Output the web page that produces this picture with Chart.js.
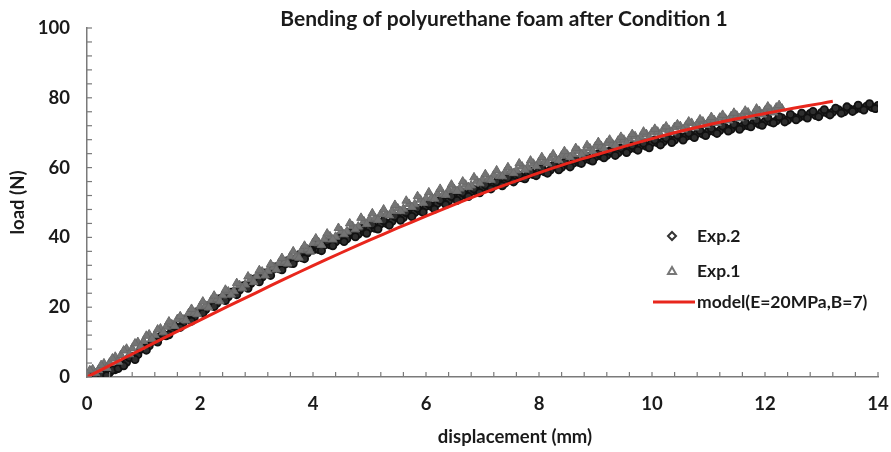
<!DOCTYPE html>
<html>
<head>
<meta charset="utf-8">
<script src="https://cdn.jsdelivr.net/npm/chart.js@4/dist/chart.umd.min.js"></script>
<style>
  html, body { margin: 0; padding: 0; background: #fff; }
  #wrap { position: relative; width: 891px; height: 452px; }
</style>
</head>
<body>
<div id="wrap"><canvas id="c" width="891" height="452"></canvas></div>
<script>
// ---- data ----
const exp2X = [0.0,0.1,0.2,0.3,0.4,0.5,0.6,0.7,0.8,0.9,1.0,1.1,1.2,1.3,1.4,1.5,1.6,1.7,1.8,1.9,
  2.0,2.1,2.2,2.3,2.4,2.5,2.6,2.7,2.8,2.9,3.0,3.1,3.2,3.3,3.4,3.5,3.6,3.7,3.8,3.9,
  4.0,4.1,4.2,4.3,4.4,4.5,4.6,4.7,4.8,4.9,5.0,5.1,5.2,5.3,5.4,5.5,5.6,5.7,5.8,5.9,
  6.0,6.1,6.2,6.3,6.4,6.5,6.6,6.7,6.8,6.9,7.0,7.1,7.2,7.3,7.4,7.5,7.6,7.7,7.8,7.9,
  8.0,8.1,8.2,8.3,8.4,8.5,8.6,8.7,8.8,8.9,9.0,9.1,9.2,9.3,9.4,9.5,9.6,9.7,9.8,9.9,
  10.0,10.1,10.2,10.3,10.4,10.5,10.6,10.7,10.8,10.9,11.0,11.1,11.2,11.3,11.4,11.5,11.6,11.7,11.8,11.9,
  12.0,12.1,12.2,12.3,12.4,12.5,12.6,12.7,12.8,12.9,13.0,13.1,13.2,13.3,13.4,13.5,13.6,13.7,13.8,13.9,14.0];
const exp2Y = [0.0,0.4,0.3,0.9,1.3,2.1,3.6,4.2,5.9,6.4,8.3,8.9,10.4,11.6,11.8,13.6,14.1,15.5,16.8,17.2,
  18.9,19.3,20.6,21.1,22.7,23.0,24.4,24.9,26.3,26.8,28.4,28.6,29.8,30.9,31.0,32.3,32.6,34.0,34.2,35.5,
  36.4,36.5,37.8,37.9,38.7,39.4,39.6,40.8,40.9,41.7,42.5,42.6,43.9,44.0,44.6,45.6,45.7,46.9,47.1,47.6,
  48.9,48.8,49.7,50.3,50.4,51.5,51.6,52.2,53.1,53.2,54.2,54.3,54.8,55.7,55.6,56.5,56.8,57.1,57.9,58.0,
  58.9,58.8,59.3,60.2,60.1,60.9,61.2,61.5,62.3,62.2,63.1,63.3,63.5,64.4,64.2,65.0,65.3,65.5,66.3,66.1,
  67.2,67.1,67.4,68.2,67.9,68.8,68.9,69.1,69.8,69.6,70.4,70.3,70.6,71.4,71.0,71.9,71.8,72.0,72.8,72.4,
  73.2,73.1,73.4,74.2,73.6,74.5,74.3,74.7,75.5,74.9,75.8,75.6,75.9,76.6,76.0,76.8,76.7,76.9,77.6,77.2,77.8];
const exp2XB = [0.05,0.15,0.25,0.35,0.45,0.55,0.65,0.75,0.85,0.95,1.05,1.15,1.25,1.35,1.45,1.55,1.65,1.75,1.85,1.95,
  2.05,2.15,2.25,2.35,2.45,2.55,2.65,2.75,2.85,2.95,3.05,3.15,3.25,3.35,3.45,3.55,3.65,3.75,3.85,3.95,
  4.05,4.15,4.25,4.35,4.45,4.55,4.65,4.75,4.85,4.95,5.05,5.15,5.25,5.35,5.45,5.55,5.65,5.75,5.85,5.95,
  6.05,6.15,6.25,6.35,6.45,6.55,6.65,6.75,6.85,6.95,7.05,7.15,7.25,7.35,7.45,7.55,7.65,7.75,7.85,7.95,
  8.05,8.15,8.25,8.35,8.45,8.55,8.65,8.75,8.85,8.95,9.05,9.15,9.25,9.35,9.45,9.55,9.65,9.75,9.85,9.95,
  10.05,10.15,10.25,10.35,10.45,10.55,10.65,10.75,10.85,10.95,11.05,11.15,11.25,11.35,11.45,11.55,11.65,11.75,11.85,11.95,
  12.05,12.15,12.25,12.35,12.45,12.55,12.65,12.75,12.85,12.95,13.05,13.15,13.25,13.35,13.45,13.55,13.65,13.75,13.85,13.95];
const exp2YB = [0.1,0.0,0.7,0.4,2.0,2.4,3.2,5.6,5.0,7.9,7.7,10.2,10.0,12.3,12.1,14.6,14.2,16.6,16.0,18.7,
  18.3,20.5,20.2,22.4,21.9,24.3,23.6,26.1,25.4,28.0,27.3,29.8,29.1,31.6,30.7,33.3,32.5,35.0,33.9,36.6,
  37.9,36.2,38.9,37.6,40.1,38.8,41.4,40.2,42.6,41.2,43.7,42.4,44.8,43.5,46.0,44.9,47.1,46.0,48.3,47.2,
  49.6,48.1,50.6,49.4,51.7,50.6,52.8,51.7,53.9,52.8,55.0,53.9,55.9,54.8,57.0,55.9,57.9,56.8,58.9,57.7,
  59.8,58.4,60.6,59.4,61.5,60.2,62.3,61.2,63.2,61.9,64.0,62.8,64.7,63.5,65.6,64.3,66.3,65.0,67.0,65.7,
  67.9,66.5,68.5,67.2,69.3,67.9,69.9,68.6,70.6,69.2,71.2,69.8,71.9,70.5,72.4,71.0,73.0,71.7,73.6,72.1,
  74.2,72.8,74.6,73.1,75.2,73.7,75.6,74.2,76.1,74.6,76.6,75.1,77.0,75.6,77.4,76.1,77.9,76.5,78.3,76.9];

const exp1X = [0.0,0.1,0.2,0.3,0.4,0.5,0.6,0.7,0.8,0.9,1.0,1.1,1.2,1.3,1.4,1.5,1.6,1.7,1.8,1.9,
  2.0,2.1,2.2,2.3,2.4,2.5,2.6,2.7,2.8,2.9,3.0,3.1,3.2,3.3,3.4,3.5,3.6,3.7,3.8,3.9,
  4.0,4.1,4.2,4.3,4.4,4.5,4.6,4.7,4.8,4.9,5.0,5.1,5.2,5.3,5.4,5.5,5.6,5.7,5.8,5.9,
  6.0,6.1,6.2,6.3,6.4,6.5,6.6,6.7,6.8,6.9,7.0,7.1,7.2,7.3,7.4,7.5,7.6,7.7,7.8,7.9,
  8.0,8.1,8.2,8.3,8.4,8.5,8.6,8.7,8.8,8.9,9.0,9.1,9.2,9.3,9.4,9.5,9.6,9.7,9.8,9.9,
  10.0,10.1,10.2,10.3,10.4,10.5,10.6,10.7,10.8,10.9,11.0,11.1,11.2,11.3,11.4,11.5,11.6,11.7,11.8,11.9,
  12.0,12.1,12.2,12.3];
const exp1Y = [0.8,2.2,2.0,3.9,4.1,5.8,6.3,8.1,8.2,10.0,10.3,12.2,12.0,13.9,14.4,15.1,16.6,16.5,18.3,18.4,
  20.2,20.4,22.0,22.3,23.4,24.5,24.6,26.3,26.5,28.1,28.9,30.2,30.4,31.5,32.7,33.0,34.6,34.5,36.3,36.6,
  38.4,38.6,39.5,40.3,40.2,41.8,41.7,43.2,43.1,44.6,45.2,45.5,46.7,46.6,47.6,48.3,48.2,49.6,49.5,50.8,
  51.2,51.4,52.5,52.3,53.5,53.8,54.0,55.1,54.9,56.2,56.6,56.8,57.9,57.6,58.7,59.0,59.2,60.3,60.0,61.1,
  61.6,61.8,62.7,62.4,63.4,63.7,63.9,64.8,64.5,65.5,66.1,66.2,67.0,66.8,67.7,68.0,68.3,69.0,68.8,69.6,
  70.1,70.3,71.0,70.8,71.6,71.9,72.0,72.8,72.5,73.2,73.3,73.6,74.3,74.0,74.7,74.9,75.1,75.8,75.4,76.2,
  76.3,76.6,77.2,76.9];
const exp1XB = [0.05,0.15,0.25,0.35,0.45,0.55,0.65,0.75,0.85,0.95,1.05,1.15,1.25,1.35,1.45,1.55,1.65,1.75,1.85,1.95,
  2.05,2.15,2.25,2.35,2.45,2.55,2.65,2.75,2.85,2.95,3.05,3.15,3.25,3.35,3.45,3.55,3.65,3.75,3.85,3.95,
  4.05,4.15,4.25,4.35,4.45,4.55,4.65,4.75,4.85,4.95,5.05,5.15,5.25,5.35,5.45,5.55,5.65,5.75,5.85,5.95,
  6.05,6.15,6.25,6.35,6.45,6.55,6.65,6.75,6.85,6.95,7.05,7.15,7.25,7.35,7.45,7.55,7.65,7.75,7.85,7.95,
  8.05,8.15,8.25,8.35,8.45,8.55,8.65,8.75,8.85,8.95,9.05,9.15,9.25,9.35,9.45,9.55,9.65,9.75,9.85,9.95,
  10.05,10.15,10.25,10.35,10.45,10.55,10.65,10.75,10.85,10.95,11.05,11.15,11.25,11.35,11.45,11.55,11.65,11.75,11.85,11.95,
  12.05,12.15,12.25];
const exp1YB = [1.9,1.1,3.4,2.6,5.3,4.4,7.6,6.5,9.6,8.7,11.8,10.9,13.6,12.8,15.9,14.6,17.4,16.2,19.5,18.0,
  21.6,19.9,23.3,21.7,25.0,23.6,26.9,25.4,28.8,27.2,30.6,29.1,32.3,30.8,34.1,32.5,36.0,34.2,37.6,36.0,
  39.7,37.8,41.1,39.4,42.7,40.9,44.0,42.3,45.6,43.8,46.9,45.0,48.0,46.3,49.3,47.5,50.5,48.7,51.8,49.9,
  52.9,51.1,53.9,52.2,55.1,53.3,56.0,54.4,57.2,55.5,58.1,56.5,59.2,57.5,60.1,58.4,61.2,59.4,62.0,60.4,
  63.0,61.2,63.8,62.1,64.7,63.0,65.6,63.8,66.4,64.7,67.3,65.5,68.0,66.4,68.8,67.1,69.6,67.9,70.3,68.7,
  71.1,69.4,71.8,70.1,72.4,70.9,73.2,71.5,73.8,72.2,74.5,72.8,75.1,73.5,75.7,74.1,76.3,74.6,76.9,75.2,
  77.5,75.8,77.9];

const modelX = [0,0.5,1,1.5,2,2.5,3,3.5,4,4.5,5,5.5,6,6.5,7,7.5,8,8.5,9,9.5,10,10.5,11,11.5,12,12.5,13,13.2];
const modelY = [0,4.1,8.2,12.3,16.3,20.3,24.2,28.1,31.9,35.6,39.2,42.7,46.1,49.4,52.6,55.6,58.5,61.2,63.6,66.0,68.3,70.4,72.3,74.0,75.5,77.0,78.4,79.0];

const titleText = 'Bending of polyurethane foam after Condition 1';
const xTitle = 'displacement (mm)';
const yTitle = 'load (N)';
const legendLabels = ['Exp.2', 'Exp.1', 'model(E=20MPa,B=7)'];

const FONT = 'Lato, "Open Sans", sans-serif';
const toPts = (xs, ys) => xs.map((x, i) => ({ x: x, y: ys[i] }));

// inner minor tick marks along both axes, positioned from the scales
const innerTicks = {
  id: 'innerTicks',
  afterDatasetsDraw(chart) {
    const ctx = chart.ctx, xs = chart.scales.x, ys = chart.scales.y;
    ctx.save();
    ctx.strokeStyle = '#7a7a7a';
    ctx.lineWidth = 1.2;
    ys.ticks.forEach(t => {
      const p = ys.getPixelForValue(t.value);
      ctx.beginPath(); ctx.moveTo(xs.left, p); ctx.lineTo(xs.left + 5, p); ctx.stroke();
    });
    xs.ticks.forEach(t => {
      const p = xs.getPixelForValue(t.value);
      ctx.beginPath(); ctx.moveTo(p, ys.bottom); ctx.lineTo(p, ys.bottom - 5); ctx.stroke();
    });
    ctx.restore();
  }
};

const overlayText = {
  id: 'overlayText',
  afterDraw(chart) {
    const ctx = chart.ctx;
    ctx.save();
    ctx.fillStyle = '#1a1a1a';
    ctx.font = 'bold 21px ' + FONT;
    ctx.textAlign = 'center';
    ctx.textBaseline = 'middle';
    ctx.fillText(titleText, 504, 19);

    // x axis title (offset to the right as in the original)
    ctx.font = 'bold 18.5px ' + FONT;
    ctx.fillText(xTitle, 515, 437);

    // legend
    ctx.textAlign = 'left';
    ctx.font = 'bold 17.5px ' + FONT;
    // Exp.2 diamond
    ctx.strokeStyle = '#333'; ctx.lineWidth = 2; ctx.fillStyle = '#fff';
    ctx.beginPath();
    ctx.moveTo(672, 232); ctx.lineTo(676, 236); ctx.lineTo(672, 240); ctx.lineTo(668, 236); ctx.closePath();
    ctx.fill(); ctx.stroke();
    // Exp.1 triangle
    ctx.strokeStyle = '#777'; ctx.fillStyle = '#fff';
    ctx.beginPath();
    ctx.moveTo(672, 267); ctx.lineTo(676, 274); ctx.lineTo(668, 274); ctx.closePath();
    ctx.fill(); ctx.stroke();
    // model line
    ctx.strokeStyle = '#e8261c'; ctx.lineWidth = 3;
    ctx.beginPath(); ctx.moveTo(653, 302); ctx.lineTo(695, 302); ctx.stroke();

    ctx.fillStyle = '#1a1a1a';
    ctx.fillText(legendLabels[0], 697, 236);
    ctx.fillText(legendLabels[1], 697, 271);
    ctx.fillText(legendLabels[2], 697, 302);
    ctx.restore();
  }
};

new Chart(document.getElementById('c'), {
  type: 'scatter',
  data: {
    datasets: [
      {
        label: legendLabels[2],
        data: toPts(modelX, modelY),
        showLine: true,
        borderColor: '#e8261c',
        borderWidth: 3,
        pointRadius: 0,
        tension: 0.3,
        order: 0
      },
      {
        label: legendLabels[1],
        data: toPts(exp1X, exp1Y).concat(toPts(exp1XB, exp1YB)),
        pointStyle: 'triangle',
        pointRadius: 5,
        borderWidth: 1,
        borderColor: '#6a6a6a',
        backgroundColor: '#747474',
        order: 1
      },
      {
        label: legendLabels[0],
        data: toPts(exp2X, exp2Y).concat(toPts(exp2XB, exp2YB)),
        pointStyle: 'circle',
        pointRadius: 3.6,
        borderWidth: 1.8,
        borderColor: '#111',
        backgroundColor: '#2e2e2e',
        order: 2
      }
    ]
  },
  options: {
    responsive: false,
    animation: false,
    layout: { padding: { top: 28, right: 13, left: 0, bottom: 0 } },
    plugins: { legend: { display: false }, tooltip: { enabled: false }, title: { display: false } },
    scales: {
      x: {
        type: 'linear',
        min: 0, max: 14,
        afterFit(s) { s.height = 75; s.paddingRight = 0; s.paddingLeft = 0; },
        border: { display: true, color: '#7a7a7a', width: 1.5 },
        grid: { display: false, drawTicks: false },
        ticks: {
          stepSize: 0.4,
          autoSkip: false,
          maxRotation: 0,
          padding: 16,
          color: '#1a1a1a',
          font: { family: FONT, size: 18.5, weight: 'bold' },
          callback(v) {
            const r = Math.round(v);
            return (Math.abs(v - r) < 1e-6 && r % 2 === 0) ? String(r) : '';
          }
        },
        title: { display: false }
      },
      y: {
        type: 'linear',
        min: 0, max: 100,
        afterFit(s) { s.width = 87; s.paddingTop = 0; s.paddingBottom = 0; },
        border: { display: true, color: '#7a7a7a', width: 1.5 },
        grid: { display: false, drawTicks: false },
        ticks: {
          stepSize: 4,
          autoSkip: false,
          padding: 17,
          color: '#1a1a1a',
          font: { family: FONT, size: 18.5, weight: 'bold' },
          callback(v) { return (v % 20 === 0) ? String(v) : ''; }
        },
        title: {
          display: true, text: yTitle, color: '#1a1a1a',
          font: { family: FONT, size: 18.5, weight: 'bold' },
          padding: { top: 7, bottom: 0 }
        }
      }
    }
  },
  plugins: [innerTicks, overlayText]
});
</script>
</body>
</html>
